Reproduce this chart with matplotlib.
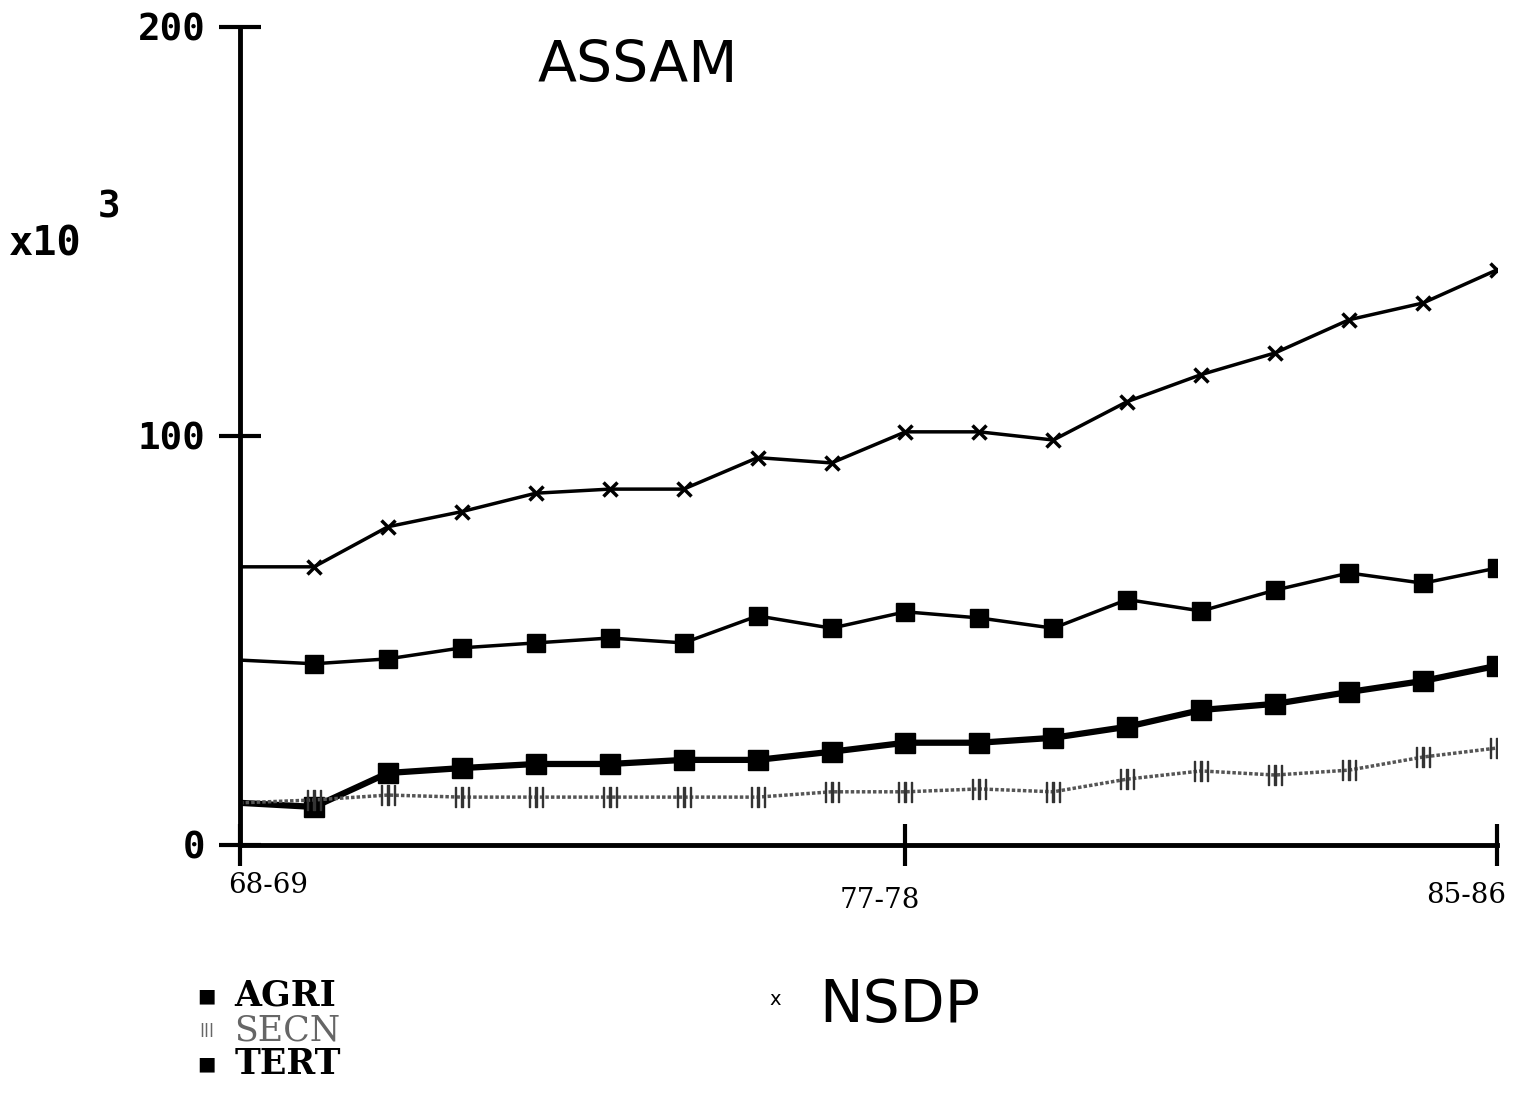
import matplotlib

matplotlib.use("Agg")
import matplotlib.pyplot as plt

# Assam, net state domestic product by sector (x10^3)
years = ["68-69", "69-70", "70-71", "71-72", "72-73", "73-74", "74-75", "75-76", "76-77",
         "77-78", "78-79", "79-80", "80-81", "81-82", "82-83", "83-84", "84-85", "85-86"]
tick_years = ["68-69", "77-78", "85-86"]

nsdp = [68, 68, 77.8, 81.5, 86, 87, 87, 94.7, 93.4, 101, 101, 99, 108.4, 115, 120.3, 128.4, 132.5, 140.6]
agri = [45.2, 44.3, 45.5, 48.2, 49.4, 50.6, 49.4, 56, 53, 57, 55.5, 53, 60, 57.2, 62.3, 66.5, 64, 67.7]
secn = [10.3, 11, 12.2, 11.7, 11.7, 11.7, 11.7, 11.7, 13, 13, 13.7, 13, 16.1, 18.1, 17.1, 18.3, 21.5, 23.7]
tert = [10.3, 9.3, 17.6, 18.8, 19.8, 19.8, 20.8, 20.8, 22.8, 25, 25, 26.2, 28.9, 33, 34.5, 37.4, 40.1, 43.8]

fig = plt.figure(figsize=(15.32, 11.07), dpi=100)
ax = fig.add_axes([0.1567, 0.2367, 0.8204, 0.739])

x = list(range(len(years)))
marks = list(range(1, len(years)))

ax.plot(x, nsdp, color="black", lw=2.5, marker="x", ms=10, mew=2.5, markevery=marks)
ax.plot(x, agri, color="black", lw=2.5, marker="s", ms=13, markevery=marks)
ax.plot(x, tert, color="black", lw=4.5, marker="s", ms=14, markevery=marks)
ax.plot(x, secn, color="#555555", lw=2.5, ls=(0, (1, 0.6)), marker="$|||$", ms=14,
        markevery=marks, mec="#333333", mfc="#333333")

ax.set_xlim(0, len(years) - 1)
ax.set_ylim(0, 200)
for side in ("top", "right"):
    ax.spines[side].set_visible(False)
for side in ("left", "bottom"):
    ax.spines[side].set_linewidth(3.5)
    ax.spines[side].set_clip_on(False)

ax.set_xticks([years.index(t) for t in tick_years])
ax.set_xticklabels([])
ax.set_yticks([0, 100, 200])
ax.set_yticklabels(["0", "100", "200"], family="DejaVu Sans Mono", weight="bold", fontsize=27)
ax.tick_params(axis="both", direction="inout", length=30, width=3, pad=10)

# x labels sit a little off their ticks in the original
offsets = {"68-69": 0.38, "77-78": -0.35, "85-86": -0.42}
drops = {"68-69": -0.05, "77-78": -0.068, "85-86": -0.062}
for t in tick_years:
    ax.text(years.index(t) + offsets[t], drops[t], t, transform=ax.get_xaxis_transform(),
            family="DejaVu Serif", fontsize=20, ha="center", va="center")

fig.text(0.416, 0.940, "ASSAM", fontsize=41, ha="center", va="center")
fig.text(0.006, 0.780, "x10", fontsize=29, weight="bold", family="DejaVu Sans Mono",
         va="center")
fig.text(0.064, 0.813, "3", fontsize=27, weight="bold", family="DejaVu Sans Mono",
         va="center")

# legend, drawn as text like the original plotter output
rows = [("AGRI", "black", "bold"), ("SECN", "#666666", "normal"), ("TERT", "black", "bold")]
for i, (name, col, wt) in enumerate(rows):
    y = 0.1005 - i * 0.031
    if name == "SECN":
        fig.text(0.135, y, "|||", fontsize=10, color=col, ha="center", va="center", weight="bold")
    else:
        fig.text(0.135, y, "\u25a0", fontsize=14, color=col, ha="center", va="center")
    fig.text(0.153, y, name, fontsize=25, family="DejaVu Serif", weight=wt, color=col,
             va="center")
fig.text(0.506, 0.097, "x", fontsize=14, ha="center", va="center")
fig.text(0.535, 0.092, "NSDP", fontsize=42, va="center")

fig.savefig("out.png", dpi=100, facecolor="white")
